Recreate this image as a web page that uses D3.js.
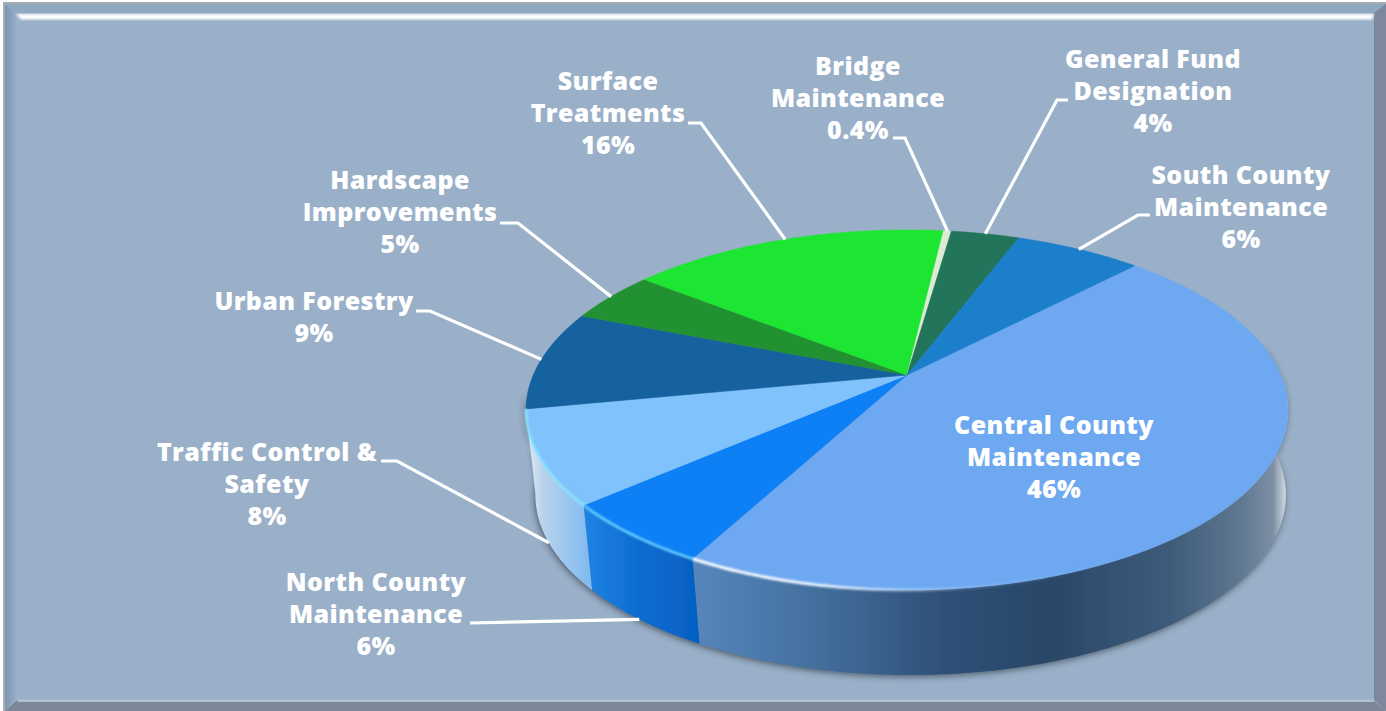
<!DOCTYPE html>
<html><head><meta charset="utf-8">
<script src="https://cdn.jsdelivr.net/npm/d3@7"></script>
<style>html,body{margin:0;padding:0;background:#fff;overflow:hidden}svg{display:block}</style>
</head><body><svg id="c" width="1386" height="711"></svg>
<script>
const categories=["Central County Maintenance","North County Maintenance","Traffic Control & Safety","Urban Forestry","Hardscape Improvements","Surface Treatments","Bridge Maintenance","General Fund Designation","South County Maintenance"];
const values=[45.85,5.75,8.4,9,4.65,16.35,0.4,3.5,6.5];
const valueLabels=["46%","6%","8%","9%","5%","16%","0.4%","4%","6%"];
const labelLines=[["Central County","Maintenance"],["North County","Maintenance"],["Traffic Control &","Safety"],["Urban Forestry"],["Hardscape","Improvements"],["Surface","Treatments"],["Bridge","Maintenance"],["General Fund","Designation"],["South County","Maintenance"]];
const topColors=["#6ea8f0","#0c80f5","#80c2fb","#17629f","#249131","#1ce632","#dcecd2","#20745a","#1f7fcb"];
// layout of labels: centre x, first baseline, elbow x, elbow y (null = no leader)
const labelLayout=[[1054,434,null,null],[376,591,470,623],[267,461,397,461],[314,310,430,311],[400,189,518,223],[608,90,701,123],[858,75,905,138],[1153,68,1057,100],[1241,184,1138,215]];
const labelEnd=[null,464,381,416,500,688,893,1068,1150];

const W=1386,H=711,LH=32;
const cx=907,cy=375,b=173.2,k=0.1945,Rx=373.7,depth=85,shrink=0.985,shrinkX=1150;
const svg=d3.select("#c");
const defs=svg.append("defs");
const blur=(id,s)=>defs.append("filter").attr("id",id).attr("x","-10%").attr("y","-10%").attr("width","120%").attr("height","120%").append("feGaussianBlur").attr("stdDeviation",s);
blur("b3",3);blur("b1",0.9);blur("b05",0.5);blur("b08",0.8);
function grad(id,stops){const g=defs.append("linearGradient").attr("id",id).attr("x1",0).attr("x2",1).attr("y1",0).attr("y2",0);
 stops.forEach(s=>g.append("stop").attr("offset",s[0]).attr("stop-color",s[1]).attr("stop-opacity",s[2]===undefined?1:s[2]));}
grad("wCentral",[[0,"#5786bd"],[0.2,"#44709f"],[0.42,"#2f5078"],[0.6,"#2a4768"],[0.8,"#3d5b7a"],[0.92,"#5f7791"],[0.975,"#7d8ea3"],[1,"#dfe6ec"]]);
grad("wNorth",[[0,"#1f83e4"],[0.5,"#0c6bd0"],[1,"#0560c2"]]);
grad("wTraffic",[[0,"#e6eef6"],[0.25,"#b9d3ec"],[1,"#7db9f1"]]);
grad("rimCentral",[[0,"#ffffff"],[0.2,"#f2fbff",0.95],[0.45,"#cfe8ff",0.25],[0.7,"#9cc7f4",0]]);
grad("bgL",[[0,"#7d95b3"],[0.7,"#8ea6c2"],[1,"#98afc7"]]);

// background + frame
svg.append("rect").attr("width",W).attr("height",H).attr("fill","#ffffff");
svg.append("rect").attr("x",3).attr("y",2).attr("width",W-3).attr("height",H-2).attr("fill","#a9adb2");
svg.append("rect").attr("x",5).attr("y",4).attr("width",W-5).attr("height",H-4).attr("fill","#99b0c8");
const poly=(p,f,extra)=>{const s=svg.append("polygon").attr("points",p.join(" ")).attr("fill",f);if(extra)s.attr("filter",extra);return s;};
poly([[5,4],[W,4],[W-12,13],[16,13]],"#8fa9c3");
poly([[5,4],[16,13],[16,699],[5,H]],"url(#bgL)");
poly([[W,4],[W,H],[1374,700],[1374,13]],"#7d889c");
poly([[5,H],[16,701],[1374,701],[W,H]],"#7e8799");
svg.append("rect").attr("x",18).attr("y",699.5).attr("width",1356).attr("height",2.5).attr("fill","#b0c1d3").attr("filter","url(#b05)");
poly([[16,14],[W-12,14],[W-14,19.5],[21,19.5]],"#ffffff","url(#b08)");

// pie
const TAU=2*Math.PI,start=44*Math.PI/180;
const pie=d3.pie().sort(null).value(d=>d).startAngle(start).endAngle(start+TAU);
const arcs=pie(values);
function topP(a){const u=Math.sin(a),v=-Math.cos(a),s=1/(1-k*v);return [cx+Rx*u*s,cy+b*v*s];}
function botP(a){const p=topP(a);return [shrinkX+(p[0]-shrinkX)*shrink,p[1]+depth];}
const line=d3.line();
const samples=(a0,a1)=>{const n=Math.max(2,Math.ceil(Math.abs(a1-a0)/0.01));return d3.range(n+1).map(i=>a0+(a1-a0)*i/n);};
const visA=80*Math.PI/180,visB=264*Math.PI/180;
const silhouette=samples(visA,visB).map(topP).concat(samples(visA,visB).reverse().map(botP));
svg.append("path").attr("d",line(silhouette)+"Z").attr("fill","#2e3540").attr("opacity",.65).attr("filter","url(#b3)").attr("transform","translate(-1,2)");

const wallFill={0:"url(#wCentral)",1:"url(#wNorth)",2:"url(#wTraffic)"};
arcs.forEach((d,i)=>{
  if(!wallFill[i])return;
  let a0=d.startAngle,a1=d.endAngle;
  if(i===0)a0=Math.max(a0,visA);
  if(i===2)a1=Math.min(a1,visB);
  const pts=samples(a0,a1).map(topP).concat(samples(a0,a1).reverse().map(botP));
  svg.append("path").attr("d",line(pts)+"Z").attr("fill",wallFill[i]).attr("filter","url(#b05)");
});
arcs.forEach((d,i)=>{
  const pts=[[cx,cy]].concat(samples(d.startAngle,d.endAngle).map(topP));
  svg.append("path").attr("d",line(pts)+"Z").attr("fill",topColors[i]).attr("stroke",topColors[i]).attr("stroke-width",.6).attr("filter","url(#b05)");
});
// rim highlights
const rim=(a0,a1,c,w)=>svg.append("path").attr("d",line(samples(a0,a1).map(topP))).attr("fill","none").attr("stroke",c).attr("stroke-width",w).attr("filter","url(#b1)");
rim(100*Math.PI/180,arcs[0].endAngle,"url(#rimCentral)",3);
rim(arcs[1].startAngle,arcs[1].endAngle,"#6fd6ff",2.4);
rim(arcs[2].startAngle,arcs[2].endAngle,"#8fe6ff",2.4);

// leaders
arcs.forEach((d,i)=>{
  const L=labelLayout[i];if(L[2]===null)return;
  const mid=(d.startAngle+d.endAngle)/2;
  const front=-Math.cos(mid)>0;
  const p=front?botP(mid):topP(mid);
  const pts=(i===1)?[p,[L[2],L[3]]]:[p,[L[2],L[3]],[labelEnd[i],L[3]]];
  svg.append("path").attr("d",line(pts)).attr("fill","none").attr("stroke","#fff").attr("stroke-width",3.2);
});
// labels
categories.forEach((c,i)=>{
  const L=labelLayout[i];
  const t=svg.append("text").attr("text-anchor","middle").attr("fill","#fff")
    .style("font-family","'Open Sans',sans-serif").style("font-weight",800).style("font-size","25px").style("letter-spacing","0.4px");
  labelLines[i].concat(valueLabels[i]).forEach((s,j)=>t.append("tspan").attr("x",L[0]).attr("y",L[1]+j*LH).text(s));
});
</script></body></html>
